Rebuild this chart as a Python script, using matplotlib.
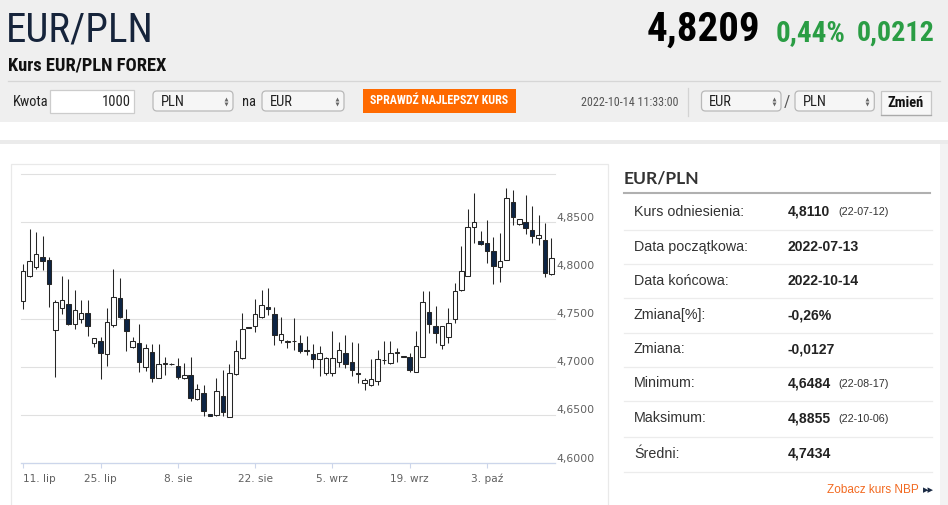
import matplotlib
matplotlib.use('Agg')
import matplotlib.pyplot as plt
import matplotlib.transforms as mtrans
from matplotlib import font_manager as fm
from matplotlib.patches import Rectangle, FancyBboxPatch
import numpy as np

# ---------------- data ----------------
opens = [4.7685, 4.7945, 4.8035, 4.8138, 4.8111, 4.7384, 4.7616, 4.7654, 4.7446, 4.7495,
         4.7564, 4.7246, 4.7270, 4.7132, 4.7436, 4.7720, 4.7495, 4.7204, 4.7246, 4.7004,
         4.7152, 4.6882, 4.7034, 4.7031, 4.7014, 4.6882, 4.6917, 4.6668, 4.6727, 4.6509,
         4.6502, 4.6699, 4.6485, 4.6927, 4.7090, 4.7408, 4.7426, 4.7516, 4.7619, 4.7550,
         4.7280, 4.7263, 4.7270, 4.7246, 4.7180, 4.7132, 4.7080, 4.6934, 4.6934, 4.7055,
         4.7142, 4.7055, 4.6941, 4.6838, 4.6813, 4.6858, 4.7072, 4.7038, 4.7149, 4.7107,
         4.7107, 4.6952, 4.7100, 4.7574, 4.7426, 4.7229, 4.7308, 4.7495, 4.7799, 4.7945,
         4.8457, 4.8311, 4.8291, 4.8208, 4.8035, 4.8111, 4.8716, 4.8484, 4.8509, 4.8422,
         4.8343, 4.8318, 4.7962]
highs = [4.8069, 4.8433, 4.8405, 4.8363, 4.8138, 4.7696, 4.7948, 4.7914, 4.7799, 4.7696,
         4.7696, 4.7305, 4.7315, 4.7609, 4.8014, 4.7920, 4.7599, 4.7315, 4.7446, 4.7239,
         4.7239, 4.7239, 4.7104, 4.7038, 4.7090, 4.7045, 4.7107, 4.6824, 4.6813, 4.6512,
         4.6882, 4.6969, 4.7031, 4.7280, 4.7557, 4.7410, 4.7703, 4.7799, 4.7817, 4.7626,
         4.7516, 4.7280, 4.7505, 4.7332, 4.7322, 4.7235, 4.7218, 4.7107, 4.7374, 4.7263,
         4.7332, 4.7263, 4.7253, 4.6882, 4.7080, 4.7177, 4.7270, 4.7270, 4.7194, 4.7110,
         4.7142, 4.7374, 4.7789, 4.7789, 4.7637, 4.7430, 4.7616, 4.7869, 4.8256, 4.8637,
         4.8803, 4.8415, 4.8526, 4.8346, 4.8388, 4.8855, 4.8837, 4.8536, 4.8785, 4.8671,
         4.8578, 4.8498, 4.8336]
lows = [4.7599, 4.7931, 4.8014, 4.8007, 4.7626, 4.6900, 4.7550, 4.7436, 4.7391, 4.7453,
        4.7322, 4.7204, 4.6876, 4.7014, 4.7412, 4.7505, 4.7170, 4.7194, 4.6952, 4.6962,
        4.6841, 4.6882, 4.6920, 4.7025, 4.6876, 4.6876, 4.6651, 4.6661, 4.6495, 4.6490,
        4.6495, 4.6495, 4.6484, 4.6917, 4.7083, 4.7406, 4.7367, 4.7505, 4.7540, 4.7229,
        4.7253, 4.7194, 4.7177, 4.7149, 4.7125, 4.6993, 4.6907, 4.6917, 4.6907, 4.7003,
        4.6993, 4.6907, 4.6838, 4.6761, 4.6803, 4.6813, 4.7031, 4.7031, 4.7055, 4.7104,
        4.6952, 4.6952, 4.7100, 4.7350, 4.7246, 4.7184, 4.7253, 4.7453, 4.7792, 4.7945,
        4.8284, 4.8266, 4.8076, 4.7862, 4.7886, 4.8111, 4.8474, 4.8474, 4.8381, 4.8284,
        4.8266, 4.7931, 4.7955]
closes = [4.7997, 4.8100, 4.8170, 4.8100, 4.7858, 4.7678, 4.7696, 4.7446, 4.7592, 4.7564,
          4.7426, 4.7298, 4.7142, 4.7471, 4.7730, 4.7523, 4.7377, 4.7270, 4.7049, 4.7194,
          4.6882, 4.7031, 4.7038, 4.7031, 4.6900, 4.6917, 4.6675, 4.6768, 4.6547, 4.6495,
          4.6751, 4.6536, 4.6941, 4.7170, 4.7391, 4.7408, 4.7550, 4.7644, 4.7599, 4.7332,
          4.7343, 4.7263, 4.7270, 4.7170, 4.7170, 4.7080, 4.7149, 4.7097, 4.7090, 4.7177,
          4.7031, 4.6969, 4.6924, 4.6865, 4.6872, 4.7080, 4.7072, 4.7149, 4.7149, 4.7107,
          4.6969, 4.7218, 4.7678, 4.7446, 4.7350, 4.7426, 4.7460, 4.7792, 4.7997, 4.8450,
          4.8509, 4.8277, 4.8208, 4.8049, 4.8100, 4.8758, 4.8561, 4.8536, 4.8439, 4.8360,
          4.8370, 4.7979, 4.8128]

x_tick_pos = [0, 12, 24, 36, 48, 60, 72]
x_tick_labels = ['11. lip', '25. lip', '8. sie', '22. sie', '5. wrz', '19. wrz', '3. paź']
y_ticks = [4.60, 4.65, 4.70, 4.75, 4.80, 4.85, 4.90]
y_tick_labels = ['4,6000', '4,6500', '4,7000', '4,7500', '4,8000', '4,8500', '']

stat_labels = ['Kurs odniesienia:', 'Data początkowa:', 'Data końcowa:', 'Zmiana[%]:',
               'Zmiana:', 'Minimum:', 'Maksimum:', 'Średni:']
stat_values = ['4,8110', '2022-07-13', '2022-10-14', '-0,26%', '-0,0127', '4,6484', '4,8855', '4,7434']
stat_dates = ['(22-07-12)', '', '', '', '', '(22-08-17)', '(22-10-06)', '']

pair = 'EUR/PLN'
last_price = '4,8209'
chg_pct = '0,44%'
chg_abs = '0,0212'
timestamp = '2022-10-14 11:33:00'

# ---------------- fonts ----------------
def has_font(name):
    try:
        fm.findfont(fm.FontProperties(family=name), fallback_to_default=False)
        return True
    except Exception:
        return False

NARROW = None
for cand in ['Liberation Sans Narrow', 'Arial Narrow', 'Roboto Condensed']:
    if has_font(cand):
        NARROW = cand
        break
NFAM = [NARROW, 'DejaVu Sans'] if NARROW else ['Liberation Sans', 'DejaVu Sans']
NF = 1.0 if NARROW else 0.82
SANS = ['Liberation Sans', 'DejaVu Sans']
TITLE = ['Lato', 'Liberation Sans', 'DejaVu Sans'] if has_font('Lato') else SANS

def npx(px):  # narrow font size from pixel size
    return px * 0.72 * NF

def px(p):
    return p * 0.72

# ---------------- figure ----------------
W, H = 948, 505
fig = plt.figure(figsize=(W / 100, H / 100), dpi=100)
fig.patch.set_facecolor('white')
bg = fig.add_axes([0, 0, 1, 1])
bg.set_xlim(0, W)
bg.set_ylim(H, 0)
bg.axis('off')
bg.set_zorder(0)

# header background
bg.add_patch(Rectangle((0, 0), W, 122, fc='#efefef', ec='none'))
bg.plot([8, 940], [81, 81], color='#d6d6d6', lw=0.9)
bg.add_patch(Rectangle((0, 140), W, 4, fc='#ebebeb', ec='none'))
bg.add_patch(Rectangle((940, 144), 8, H - 144, fc='#f3f3f3', ec='none'))
bg.add_patch(Rectangle((11, 164), 597.5, 360, fc='white', ec='#e9e9e9', lw=0.9))

# header texts
bg.text(6, 42, pair, fontsize=npx(41), family=NFAM, color='#16243b', va='baseline', ha='left')
bg.text(8, 70, 'Kurs EUR/PLN FOREX', fontsize=npx(18.5), family=NFAM, weight='bold',
        color='#111111', va='baseline', ha='left')
bg.text(760, 41, last_price, fontsize=npx(41), family=NFAM, weight='bold',
        color='#000000', va='baseline', ha='right')
bg.text(776, 41, chg_pct, fontsize=npx(29), family=NFAM, weight='bold',
        color='#2a9d44', va='baseline', ha='left')
bg.text(935, 41, chg_abs, fontsize=npx(28), family=NFAM, weight='bold',
        color='#2a9d44', va='baseline', ha='right')

# controls row
cy = 101.5
bg.text(13, cy, 'Kwota', fontsize=npx(14.5), family=NFAM, color='#222222', va='center', ha='left')
bg.add_patch(Rectangle((50, 90), 84, 23, fc='white', ec='#cccccc', lw=0.9))
bg.text(130.5, cy, '1000', fontsize=npx(14.5), family=NFAM, color='#222222', va='center', ha='right')


def select_box(x0, x1, label):
    bg.add_patch(FancyBboxPatch((x0, 91), x1 - x0, 20, boxstyle='round,pad=0,rounding_size=4',
                                fc='#f6f6f6', ec='#b9b9b9', lw=0.9))
    bg.text(x0 + 7.5, cy, label, fontsize=npx(14.5), family=NFAM, color='#222222',
            va='center', ha='left')
    bg.plot([x1 - 7], [98.6], marker='^', ms=2.8, color='#666666', mec='none')
    bg.plot([x1 - 7], [104.4], marker='v', ms=2.8, color='#666666', mec='none')


select_box(153, 233, 'PLN')
bg.text(242, cy, 'na', fontsize=npx(14.5), family=NFAM, color='#222222', va='center', ha='left')
select_box(262, 344, 'EUR')
bg.add_patch(Rectangle((363, 89), 153, 23.5, fc='#ff6a00', ec='none'))
bg.text(439.5, 101, 'SPRAWDŹ NAJLEPSZY KURS', fontsize=npx(12), family=NFAM, weight='bold',
        color='white', va='center', ha='center')
bg.text(581.5, 102, timestamp, fontsize=npx(12.0), family=NFAM, color='#555555',
        va='center', ha='left')
bg.plot([688, 688], [88, 116], color='#d3d3d3', lw=0.9)
select_box(701.5, 781, 'EUR')
bg.text(787, 102.5, '/', fontsize=npx(17), family=NFAM, color='#555555', va='center', ha='center')
select_box(795, 874.3, 'PLN')
bg.add_patch(Rectangle((880.7, 90.7), 50.3, 24.5, fc='#f7f7f7', ec='#c6c6c6', lw=0.9))
bg.plot([881, 931], [115.2, 115.2], color='#aaaaaa', lw=0.9)
bg.text(905.8, 103, 'Zmień', fontsize=npx(14.5), family=NFAM, weight='bold',
        color='#111111', va='center', ha='center')

# right stats panel
bg.text(624, 183.3, pair, fontsize=px(17.5), family=TITLE, weight='bold', color='#333333',
        va='baseline', ha='left')
bg.plot([624, 930], [193.3, 193.3], color='#b0b0b0', lw=1.5)
row_y = [211.7, 246.7, 281.0, 315.0, 349.3, 383.3, 418.3, 454.0]
sep_y = [230.0, 264.3, 298.3, 332.7, 366.7, 401.0, 437.3, 471.5]
for i, (lab, val, dt) in enumerate(zip(stat_labels, stat_values, stat_dates)):
    yy = row_y[i]
    bg.text(634, yy, lab, fontsize=px(14.2), family=SANS, color='#333333', va='center', ha='left')
    bg.text(788, yy, val, fontsize=px(14.0), family=SANS, weight='bold', color='#222222',
            va='center', ha='left')
    if dt:
        bg.text(838, yy + 0.5, dt, fontsize=px(10.8), family=SANS, color='#333333',
                va='center', ha='left')
    bg.plot([624, 932], [sep_y[i], sep_y[i]], color='#ececec', lw=0.9)
bg.text(919, 490, 'Zobacz kurs NBP', fontsize=px(11.8), family=SANS, color='#f26a21',
        va='center', ha='right')
bg.text(922.5, 490.5, '▸▸', fontsize=px(11), family=['DejaVu Sans'], color='#1a2a44',
        va='center', ha='left')

# ---------------- chart ----------------
left_px, right_px, top_px, bot_px = 21.3, 555.0, 174.3, 463.3
ax = fig.add_axes([left_px / W, (H - bot_px) / H, (right_px - left_px) / W, (bot_px - top_px) / H])
ax.set_zorder(2)
ax.patch.set_alpha(0)

idx = np.arange(len(opens))
o = np.array(opens)
c = np.array(closes)
hi = np.array(highs)
lo = np.array(lows)
up = c >= o
body_bottom = np.minimum(o, c)
body_h = np.maximum(np.abs(c - o), 0.00025)

DARK = '#0d2444'
EDGE = '#262626'
ax.vlines(idx, lo, hi, color=EDGE, lw=0.75, zorder=2)
ax.bar(idx, body_h, bottom=body_bottom, width=0.7,
       color=np.where(up, 'white', DARK), edgecolor=EDGE, lw=0.75, zorder=3)

ax.set_xlim(-0.3, 82.55)
ax.set_ylim(4.60, 4.90)
ax.set_yticks(y_ticks)
ax.yaxis.grid(True, color='#e0e0e0', lw=0.8)
ax.set_axisbelow(True)
for gl in ax.get_ygridlines():
    gl.set_clip_on(False)
ax.tick_params(axis='y', left=False, right=False, labelleft=False, labelright=False)

trans = mtrans.blended_transform_factory(ax.transAxes, ax.transData)
trans = mtrans.offset_copy(trans, fig=fig, x=1.7, y=1.8, units='dots')
for v, lab in zip(y_ticks, y_tick_labels):
    if lab:
        ax.text(1.0, v, lab, transform=trans, ha='left', va='baseline',
                fontsize=7.8, color='#606060', family=['DejaVu Sans'])

ax.set_xticks(x_tick_pos)
ax.set_xticklabels(x_tick_labels, fontsize=7.6, color='#606060', family=['DejaVu Sans'])
ax.tick_params(axis='x', direction='out', length=3.6, width=0.8, color='#ccd6eb', pad=3.8)
xl = ax.get_xticklabels()
xl[0].set_ha('left')

for s in ['left', 'right', 'top']:
    ax.spines[s].set_visible(False)
ax.spines['bottom'].set_color('#ccd6eb')
ax.spines['bottom'].set_linewidth(0.9)

fig.savefig('out.png', dpi=100, facecolor='white')
